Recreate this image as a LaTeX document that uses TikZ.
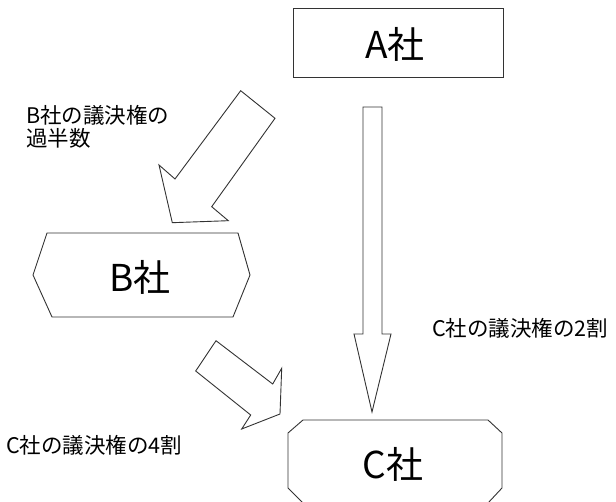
\documentclass[tikz,border=0pt]{standalone}
\usepackage{fontspec}
\setmainfont{Noto Sans CJK JP}
\tikzset{
  shp/.style={draw=black!80, line width=0.9pt, line join=miter, fill=white},
  big/.style={font=\fontsize{37}{40}\selectfont, inner sep=0pt},
  small/.style={font=\fontsize{21.5}{23}\selectfont, inner sep=0pt, anchor=west}
}
\begin{document}
\begin{tikzpicture}[x=1pt,y=-1pt]
\useasboundingbox (0,0) rectangle (616,502);
% A box
\draw[shp] (293,8) rectangle (503,77);
\node[big] (a) at (395,44) {A社};
% B hexagon
\draw[shp] (47,233) -- (238,233) -- (250,275) -- (233,317) -- (52,317) -- (33,275) -- cycle;
\node[big] (b) at (140,277) {B社};
% C octagon
\draw[shp] (303,420) -- (488,420) -- (502,433) -- (502,488) -- (488,503) -- (303,503) -- (288,488) -- (288,433) -- cycle;
\node[big] (c) at (393,464) {C社};
% vertical block arrow A -> C
\draw[shp] (363,107) -- (382,107) -- (382,334) -- (391,334) -- (372,412) -- (354,334) -- (363,334) -- cycle;
% big diagonal block arrow -> B
\draw[shp] (240.7,90.7) -- (275,118.3) -- (211.7,206.7) -- (228.3,220.7) -- (172.3,222.7) -- (159,165) -- (175,179) -- cycle;
% small diagonal block arrow B -> C
\draw[shp] (216,340.7) -- (272.7,384) -- (281.7,368.3) -- (280,414) -- (241.7,429) -- (250.7,415) -- (195.7,371) -- cycle;
% labels
\node[small] (l1) at (26,115) {B社の議決権の};
\node[small] (l2) at (26,138) {過半数};
\node[small] (l3) at (6,445) {C社の議決権の4割};
\node[small] (l4) at (432,328) {C社の議決権の2割};
\end{tikzpicture}
\end{document}
